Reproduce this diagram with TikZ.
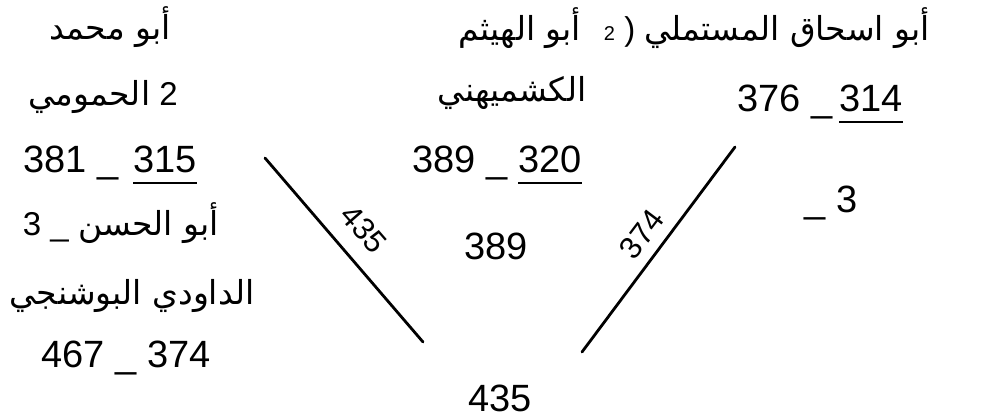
\documentclass[tikz,border=0pt]{standalone}
\usepackage{fontspec}
\usepackage{tikz}
\setmainfont{Liberation Sans}
\newfontfamily\arfont[Script=Arabic]{DejaVu Sans}
\TeXXeTstate=1
\newcommand\ar[1]{{\arfont\beginR #1\endR}}
\tikzset{
  num/.style={
    font=\fontsize{38}{40}\selectfont,
    inner sep=0pt
  },
  artxt/.style={
    font=\fontsize{33}{36}\selectfont,
    inner sep=0pt
  },
  divline/.style={
    line width=2.8pt,
    line cap=round
  },
  uline/.style={
    line width=2.4pt
  },
  lbl/.style={
    font=\fontsize{31}{33}\selectfont,
    inner sep=0pt
  }
}

\begin{document}
\begin{tikzpicture}[x=1pt,y=-1pt]
  \useasboundingbox (0,0) rectangle (988,419);

  % left column
  \node[artxt] (lname1) at (110,27) {\ar{أبو محمد}};
  \node[artxt] (lname2) at (103,97) {\ar{الحمومي} 2};
  \node[num, anchor=base west] (ldeath) at (23,173) {381 \_};
  \node[num, anchor=base east] (lbirth) at (197,173) {315};
  \draw[uline] ([yshift=-10pt]lbirth.base west) -- ([yshift=-10pt]lbirth.base east);
  \node[artxt] (lname3) at (121,223) {3 \_ \ar{أبو الحسن}};
  \node[artxt] (lname4) at (132,296) {\ar{الداودي البوشنجي}};
  \node[num, anchor=base] (lyears) at (126,368) {467 \_ 374};

  % middle column
  \node[artxt] (cname1) at (520,28) {\ar{أبو الهيثم}};
  \node[artxt] (cname2) at (512,93) {\ar{الكشميهني}};
  \node[num, anchor=base west] (cdeath) at (412,173) {389 \_};
  \node[num, anchor=base east] (cbirth) at (582,173) {320};
  \draw[uline] ([yshift=-10pt]cbirth.base west) -- ([yshift=-10pt]cbirth.base east);
  \node[num, anchor=base] (cmid) at (496,260) {389};
  \node[num, anchor=base] (cbot) at (500,412) {435};

  % right column
  \node[artxt, anchor=east] (rname) at (930,28) {{\fontsize{20}{20}\selectfont 2}\ )\ \ar{أبو اسحاق المستملي}};
  \node[num, anchor=base west] (rdeath) at (737,112) {376 \_};
  \node[num, anchor=base east] (rbirth) at (903,112) {314};
  \draw[uline] ([yshift=-10pt]rbirth.base west) -- ([yshift=-10pt]rbirth.base east);
  \node[num, anchor=base east] (rthree) at (858,213) {\_ 3};

  % dividing lines
  \coordinate (ltop) at (265,158);
  \coordinate (lbot) at (423,342);
  \draw[divline] (ltop) -- (lbot);
  \node[lbl, rotate=-49] (lslope) at (364,229) {435};
  \coordinate (rbot) at (582,352);
  \coordinate (rtop) at (735,147);
  \draw[divline] (rbot) -- (rtop);
  \node[lbl, rotate=53] (rslope) at (642,234) {374};

\end{tikzpicture}
\end{document}
